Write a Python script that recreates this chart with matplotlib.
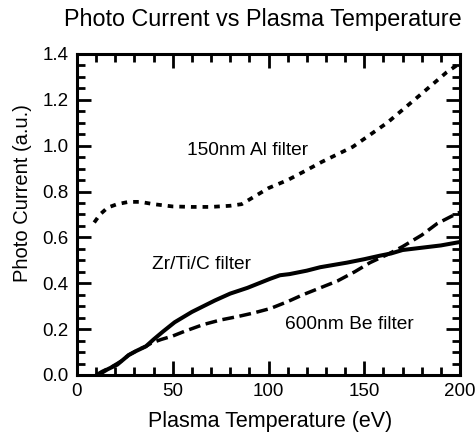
import matplotlib
matplotlib.use("Agg")
import matplotlib.pyplot as plt
from matplotlib.ticker import MultipleLocator, FormatStrFormatter

plt.rcParams['font.family'] = ['Liberation Sans', 'DejaVu Sans']

# 150nm Al filter (dotted)
al_temp = [9, 12, 16, 21, 27, 33, 40, 50, 60, 70, 80, 86, 90, 95, 100, 110, 118, 128, 144, 162, 179, 193, 200]
al_curr = [0.665, 0.70, 0.73, 0.745, 0.755, 0.755, 0.745, 0.735, 0.733, 0.733, 0.738, 0.745, 0.765, 0.79, 0.815, 0.85, 0.885, 0.93, 0.995, 1.10, 1.22, 1.32, 1.36]

# 600nm Be filter (dashed)
be_temp = [10, 13, 18, 23, 27, 32, 36, 39, 44, 50, 56, 66, 75, 84, 92, 101, 110, 118, 127, 136, 145, 153, 162, 170, 180, 188, 195, 200]
be_curr = [0.0, 0.015, 0.035, 0.06, 0.087, 0.11, 0.125, 0.14, 0.155, 0.17, 0.19, 0.22, 0.24, 0.255, 0.27, 0.29, 0.32, 0.35, 0.38, 0.41, 0.45, 0.49, 0.525, 0.56, 0.61, 0.66, 0.69, 0.71]

# Zr/Ti/C filter (solid)
zr_temp = [12, 16, 21, 27, 31, 36, 40, 45, 51, 55, 60, 66, 72, 80, 89, 95, 101, 106, 111, 120, 127, 134, 141, 150, 158, 164, 170, 180, 190, 200]
zr_curr = [0.005, 0.025, 0.045, 0.087, 0.105, 0.125, 0.155, 0.19, 0.23, 0.25, 0.275, 0.30, 0.325, 0.355, 0.38, 0.40, 0.42, 0.435, 0.44, 0.455, 0.47, 0.48, 0.49, 0.505, 0.52, 0.53, 0.545, 0.555, 0.565, 0.58]

labels = ["150nm Al filter", "Zr/Ti/C filter", "600nm Be filter"]
label_pos = [(89, 0.98), (65, 0.48), (142, 0.22)]

fig = plt.figure(figsize=(4.77, 4.37), dpi=100)
ax = fig.add_axes([0.1614, 0.1419, 0.803, 0.7346])

ax.plot(al_temp, al_curr, color='black', lw=2.7, dashes=(1.5, 1.6))
ax.plot(be_temp, be_curr, color='black', lw=2.5, dashes=(3.4, 1.6))
ax.plot(zr_temp, zr_curr, color='black', lw=2.9, solid_capstyle='butt')

for text, (x, y) in zip(labels, label_pos):
    ax.text(x, y, text, fontsize=13.8, ha='center', va='center')

ax.set_xlim(0, 200)
ax.set_ylim(0, 1.4)
ax.xaxis.set_major_locator(MultipleLocator(50))
ax.xaxis.set_minor_locator(MultipleLocator(10))
ax.yaxis.set_major_locator(MultipleLocator(0.2))
ax.yaxis.set_minor_locator(MultipleLocator(0.05))
ax.yaxis.set_major_formatter(FormatStrFormatter('%.1f'))
ax.tick_params(which='both', direction='in', top=True, right=True, width=2, labelsize=13.5)
ax.tick_params(which='major', length=10, pad=6)
ax.tick_params(which='minor', length=6)
for s in ax.spines.values():
    s.set_linewidth(2.2)

ax.set_xlabel('Plasma Temperature (eV)', fontsize=15.5)
ax.set_ylabel('Photo Current (a.u.)', fontsize=14.5, va='center')
ax.xaxis.set_label_coords(0.505, -0.112)
ax.yaxis.set_label_coords(-0.143, 0.567)
fig.suptitle('Photo Current vs Plasma Temperature', fontsize=16.8, x=0.552, y=0.982)

fig.savefig('out.png', dpi=100)
